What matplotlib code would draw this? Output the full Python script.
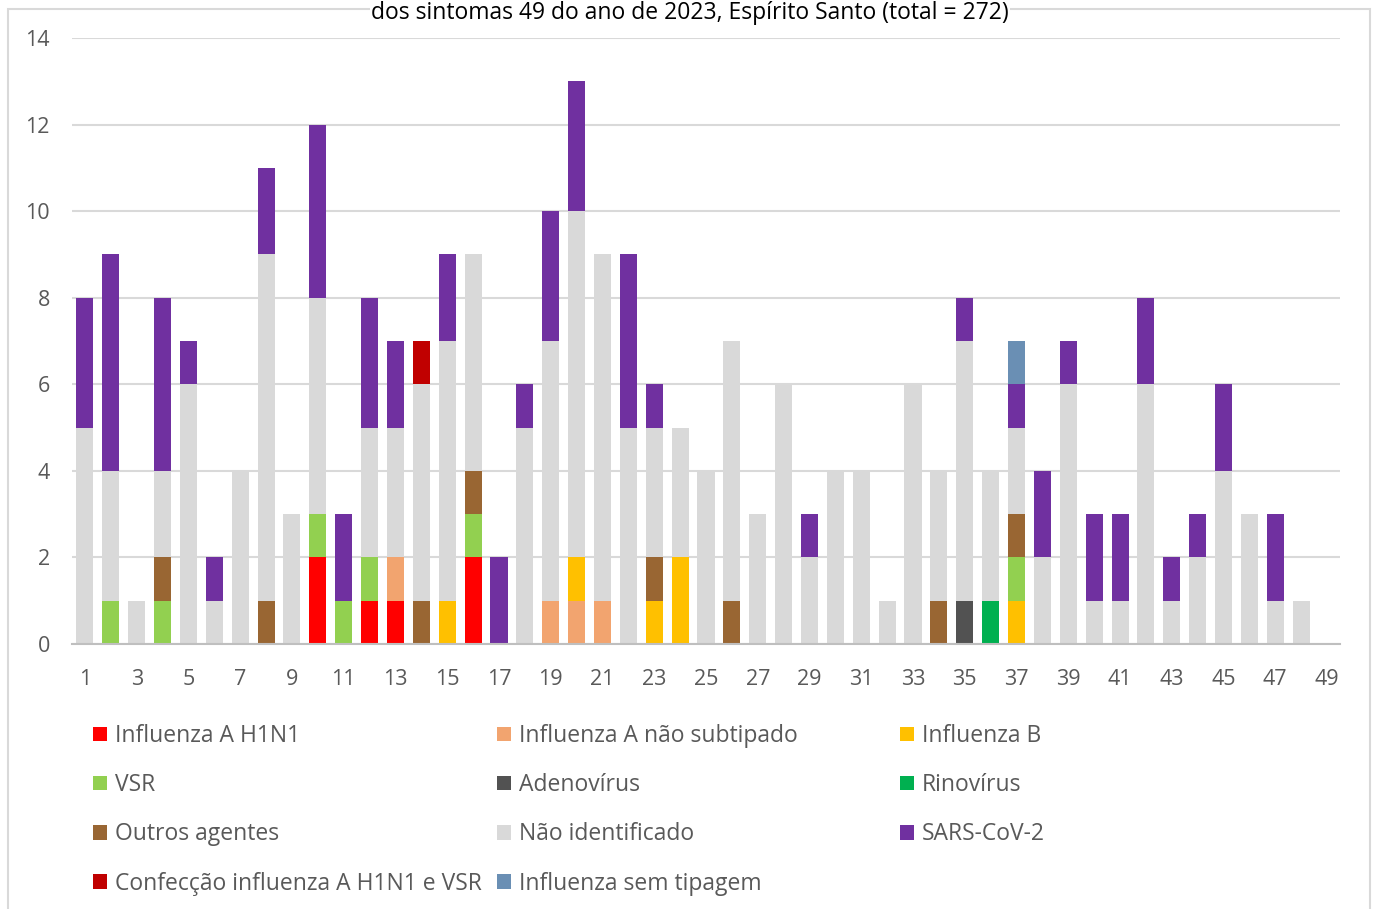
import matplotlib
matplotlib.use("Agg")
import matplotlib.pyplot as plt
import numpy as np
from matplotlib.patches import Rectangle

weeks = list(range(1, 50))

h1n1       = [0,0,0,0,0,0,0,0,0,2, 0,1,1,0,0,2,0,0,0,0, 0,0,0,0,0,0,0,0,0,0, 0,0,0,0,0,0,0,0,0,0, 0,0,0,0,0,0,0,0,0]
flu_a_ns   = [0,0,0,0,0,0,0,0,0,0, 0,0,1,0,0,0,0,0,1,1, 1,0,0,0,0,0,0,0,0,0, 0,0,0,0,0,0,0,0,0,0, 0,0,0,0,0,0,0,0,0]
flu_b      = [0,0,0,0,0,0,0,0,0,0, 0,0,0,0,1,0,0,0,0,1, 0,0,1,2,0,0,0,0,0,0, 0,0,0,0,0,0,1,0,0,0, 0,0,0,0,0,0,0,0,0]
vsr        = [0,1,0,1,0,0,0,0,0,1, 1,1,0,0,0,1,0,0,0,0, 0,0,0,0,0,0,0,0,0,0, 0,0,0,0,0,0,1,0,0,0, 0,0,0,0,0,0,0,0,0]
adeno      = [0,0,0,0,0,0,0,0,0,0, 0,0,0,0,0,0,0,0,0,0, 0,0,0,0,0,0,0,0,0,0, 0,0,0,0,1,0,0,0,0,0, 0,0,0,0,0,0,0,0,0]
rino       = [0,0,0,0,0,0,0,0,0,0, 0,0,0,0,0,0,0,0,0,0, 0,0,0,0,0,0,0,0,0,0, 0,0,0,0,0,1,0,0,0,0, 0,0,0,0,0,0,0,0,0]
outros     = [0,0,0,1,0,0,0,1,0,0, 0,0,0,1,0,1,0,0,0,0, 0,0,1,0,0,1,0,0,0,0, 0,0,0,1,0,0,1,0,0,0, 0,0,0,0,0,0,0,0,0]
nao_ident  = [5,3,1,2,6,1,4,8,3,5, 0,3,3,5,6,5,0,5,6,8, 8,5,3,3,4,6,3,6,2,4, 4,1,6,3,6,3,2,2,6,1, 1,6,1,2,4,3,1,1,0]
sars       = [3,5,0,4,1,1,0,2,0,4, 2,3,2,0,2,0,2,1,3,3, 0,4,1,0,0,0,0,0,1,0, 0,0,0,0,1,0,1,2,1,2, 2,2,1,1,2,0,2,0,0]
coinfec    = [0,0,0,0,0,0,0,0,0,0, 0,0,0,1,0,0,0,0,0,0, 0,0,0,0,0,0,0,0,0,0, 0,0,0,0,0,0,0,0,0,0, 0,0,0,0,0,0,0,0,0]
sem_tip    = [0,0,0,0,0,0,0,0,0,0, 0,0,0,0,0,0,0,0,0,0, 0,0,0,0,0,0,0,0,0,0, 0,0,0,0,0,0,1,0,0,0, 0,0,0,0,0,0,0,0,0]

labels = ["Influenza A H1N1", "Influenza A não subtipado", "Influenza B", "VSR",
          "Adenovírus", "Rinovírus", "Outros agentes", "Não identificado",
          "SARS-CoV-2", "Confecção influenza A H1N1 e VSR", "Influenza sem tipagem"]
series = [h1n1, flu_a_ns, flu_b, vsr, adeno, rino, outros, nao_ident, sars, coinfec, sem_tip]
colors = ["#FF0000", "#F2A46F", "#FFC000", "#92D050", "#525252", "#00B050",
          "#996633", "#D9D9D9", "#7030A0", "#C00000", "#6A8FB4"]

title = "dos sintomas 49 do ano de 2023, Espírito Santo (total = 272)"

plt.rcParams['font.family'] = ['Open Sans', 'DejaVu Sans']
fig = plt.figure(figsize=(13.75, 9.09), dpi=100)
ax = fig.add_axes([72/1375, 1-644/909, (1340-72)/1375, (644-38)/909])

x = np.array(weeks)
bottom = np.zeros(len(weeks))
handles = []
for vals, lab, col in zip(series, labels, colors):
    v = np.array(vals, dtype=float)
    b = ax.bar(x, v, width=0.66, bottom=bottom, color=col, label=lab,
               edgecolor='none', zorder=3)
    handles.append(b)
    bottom += v

ax.set_xlim(0.5, 49.5)
ax.set_ylim(0, 14)
ax.set_yticks(range(0, 15, 2))
ax.set_xticks(range(1, 50, 2))
ax.tick_params(axis='both', length=0, labelsize=15.5, colors='#595959')
ax.tick_params(axis='y', pad=16)
ax.tick_params(axis='x', pad=18)
ax.yaxis.grid(True, color='#D9D9D9', linewidth=1.5, zorder=0)
for s in ['top', 'right', 'left']:
    ax.spines[s].set_visible(False)
ax.spines['bottom'].set_color('#BFBFBF')
ax.spines['bottom'].set_linewidth(1.5)
ax.spines['bottom'].set_zorder(4)

# chart area border
fig.patches.append(Rectangle((8/1375, -0.05), (1370-8)/1375, 1.05 - 9/909,
                             transform=fig.transFigure, fill=False,
                             edgecolor='#D9D9D9', linewidth=1.5, zorder=0))

# title (last visible line of the reference title)
fig.text(690/1375, 1.0 - 1/909, title, ha='center', va='top', fontsize=16.5,
         color='#000000', zorder=5,
         bbox=dict(facecolor='white', edgecolor='none', pad=0.5))

# legend: three columns, row-major order
col_x = [93/1375, 497/1375, 900/1375]
for c in range(3):
    idx = list(range(c, len(labels), 3))
    fig.legend([handles[i] for i in idx], [labels[i] for i in idx],
               loc='upper left', bbox_to_anchor=(col_x[c], 1-724/909),
               frameon=False, fontsize=16.5, labelcolor='#595959',
               handlelength=0.6, handleheight=0.6, handletextpad=0.35,
               labelspacing=1.1, borderpad=0, borderaxespad=0)

fig.savefig("out.png", dpi=100)
